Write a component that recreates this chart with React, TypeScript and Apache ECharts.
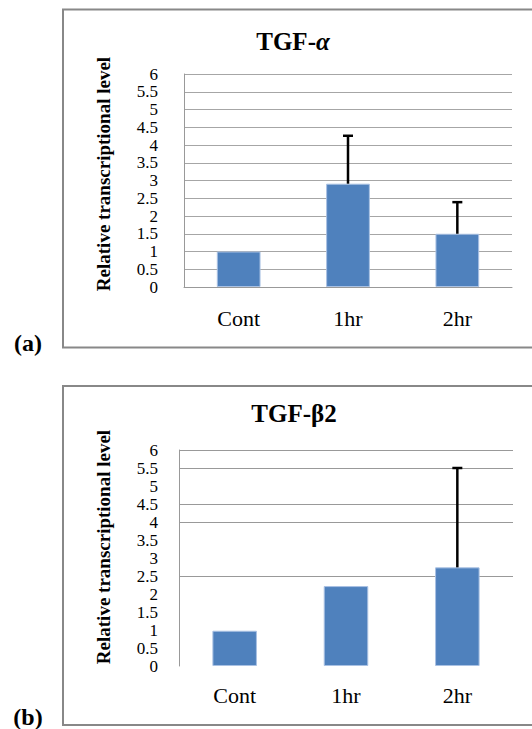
import React, { useEffect, useRef } from "react";
import * as echarts from "echarts";

const categories = ["Cont", "1hr", "2hr"];
const yTickValues = [0, 0.5, 1, 1.5, 2, 2.5, 3, 3.5, 4, 4.5, 5, 5.5, 6];

const titleA = "TGF-";
const titleAGreek = "α";
const valuesA = [1.0, 2.91, 1.5];
const errorUpperA = [null, 4.26, 2.39];

const titleB = "TGF-β2";
const valuesB = [0.98, 2.22, 2.74];
const errorUpperB = [null, null, 5.5];
const visibleGridB = [2.5, 4, 4.5, 5.5, 6];

const yName = "Relative transcriptional level";

const SERIF = "'Liberation Serif', 'Times New Roman', 'DejaVu Serif', serif";
const BAR = "#4F81BD";
const GRID = "#a6a6a6";

function errorData(vals: number[], uppers: (number | null)[]) {
  const out: number[][] = [];
  uppers.forEach((u, i) => {
    if (u != null) out.push([i, vals[i], u]);
  });
  return out;
}

function renderErr(params: any, api: any) {
  const i = api.value(0);
  const p0 = api.coord([i, api.value(1)]);
  const p1 = api.coord([i, api.value(2)]);
  const st = { stroke: "#000", lineWidth: 2.5 };
  return {
    type: "group",
    children: [
      { type: "line", shape: { x1: p0[0], y1: p0[1], x2: p1[0], y2: p1[1] }, style: st },
      { type: "line", shape: { x1: p1[0] - 5, y1: p1[1], x2: p1[0] + 5, y2: p1[1] }, style: st },
    ],
  };
}

export default function App() {
  const ref = useRef<HTMLDivElement>(null);
  useEffect(() => {
    if (!ref.current) return;
    const chart = echarts.init(ref.current, null, { renderer: "svg" });
    const gridColorsB = yTickValues.map((v) => (visibleGridB.includes(v) ? "#999" : "rgba(0,0,0,0)"));
    const yAxisBase = (gridColors: any, labelMargin: number) => ({
      type: "value",
      min: 0,
      max: 6,
      interval: 0.5,
      axisLine: { show: true, lineStyle: { color: "#999", width: 1 } },
      axisTick: { show: false },
      axisLabel: {
        fontFamily: SERIF,
        fontSize: 17,
        lineHeight: 14,
        color: "#000",
        margin: labelMargin,
        showMinLabel: true,
        showMaxLabel: true,
        hideOverlap: false,
      },
      splitLine: { show: true, lineStyle: { color: gridColors, width: 1 } },
    });
    const xAxisBase = (showLine: boolean, margin: number) => ({
      type: "category",
      data: categories,
      axisLine: { show: showLine, lineStyle: { color: "#999", width: 1 } },
      axisTick: { show: false },
      axisLabel: { fontFamily: SERIF, fontSize: 22, color: "#000", margin },
    });
    const nameText = (x: number, y: number) => ({
      type: "text",
      x,
      y,
      rotation: Math.PI / 2,
      style: {
        text: yName,
        align: "center",
        verticalAlign: "middle",
        fontFamily: SERIF,
        fontWeight: "bold",
        fontSize: 19,
        fill: "#000",
      },
    });
    const plainText = (text: string, x: number, y: number, size: number) => ({
      type: "text",
      x,
      y,
      style: {
        text,
        align: "center",
        verticalAlign: "middle",
        fontFamily: SERIF,
        fontWeight: "bold",
        fontSize: size,
        fill: "#000",
      },
    });
    chart.setOption({
      animation: false,
      backgroundColor: "#fff",
      grid: [
        { left: 184, right: 20, top: 74, height: 213 },
        { left: 179, right: 19, top: 450, height: 216 },
      ],
      xAxis: [
        { ...xAxisBase(true, 20), gridIndex: 0 },
        { ...xAxisBase(false, 18), gridIndex: 1 },
      ],
      yAxis: [
        { ...yAxisBase(GRID, 26), gridIndex: 0 },
        { ...yAxisBase(gridColorsB, 21), gridIndex: 1 },
      ],
      series: [
        {
          type: "bar",
          xAxisIndex: 0,
          yAxisIndex: 0,
          data: valuesA,
          barWidth: "40%",
          itemStyle: { color: BAR, borderColor: "#a9c1e3", borderWidth: 1 },
        },
        {
          type: "custom",
          xAxisIndex: 0,
          yAxisIndex: 0,
          data: errorData(valuesA, errorUpperA),
          encode: { x: 0, y: [1, 2] },
          renderItem: renderErr,
          z: 5,
        },
        {
          type: "bar",
          xAxisIndex: 1,
          yAxisIndex: 1,
          data: valuesB,
          barWidth: "40%",
          itemStyle: { color: BAR, borderColor: "#a9c1e3", borderWidth: 1 },
        },
        {
          type: "custom",
          xAxisIndex: 1,
          yAxisIndex: 1,
          data: errorData(valuesB, errorUpperB),
          encode: { x: 0, y: [1, 2] },
          renderItem: renderErr,
          z: 5,
        },
      ],
      graphic: [
        {
          type: "rect",
          shape: { x: 63, y: 9.5, width: 520, height: 338 },
          style: { fill: "none", stroke: "#888", lineWidth: 2 },
          silent: true,
        },
        {
          type: "rect",
          shape: { x: 63, y: 386, width: 520, height: 339 },
          style: { fill: "none", stroke: "#888", lineWidth: 2 },
          silent: true,
        },
        {
          type: "text",
          x: 293,
          y: 41,
          style: {
            text: "{a|" + titleA + "}{b|" + titleAGreek + "}",
            align: "center",
            verticalAlign: "middle",
            rich: {
              a: { fontFamily: SERIF, fontWeight: "bold", fontSize: 25, fill: "#000" },
              b: { fontFamily: SERIF, fontWeight: "bold", fontStyle: "italic", fontSize: 25, fill: "#000" },
            },
          },
        },
        plainText(titleB, 294, 413, 25),
        plainText("(a)", 28, 343, 24),
        plainText("(b)", 28, 717, 24),
        nameText(103, 174),
        nameText(103, 547),
      ],
    });
    return () => chart.dispose();
  }, []);
  return (
    <div
      ref={ref}
      style={{ position: "fixed", left: 0, top: 0, width: 532, height: 729 }}
    />
  );
}
